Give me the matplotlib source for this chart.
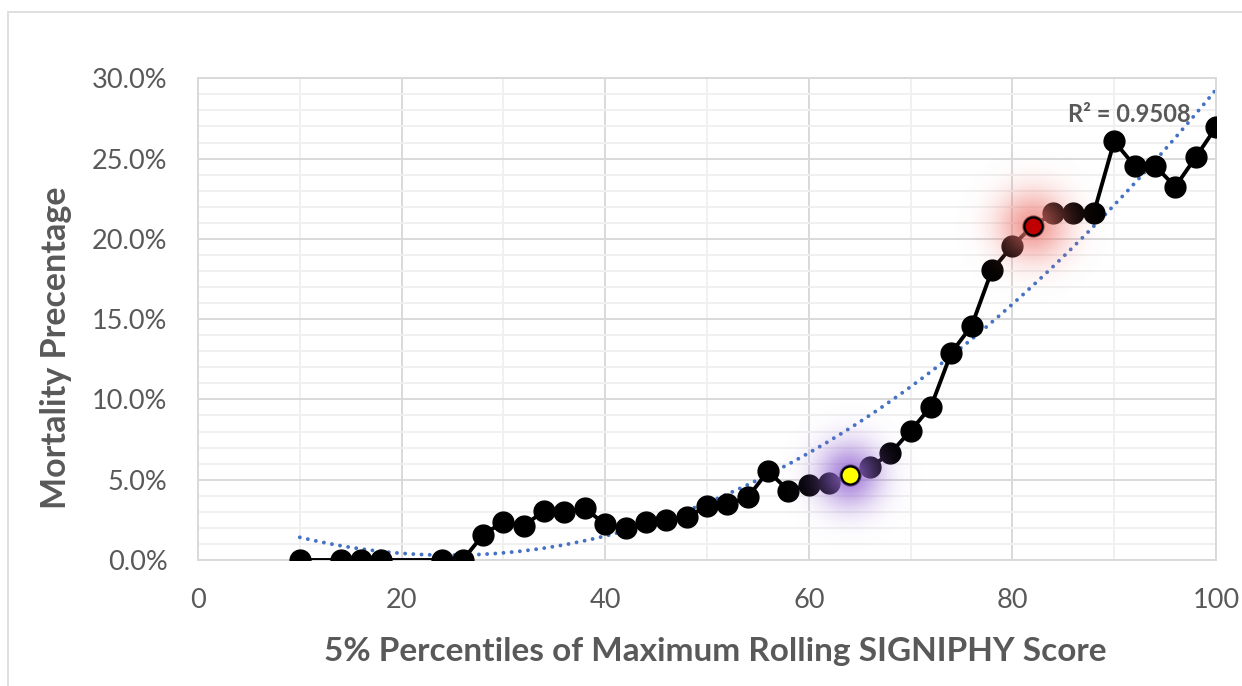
import numpy as np
import matplotlib
matplotlib.use("Agg")
import matplotlib.pyplot as plt
from matplotlib.ticker import FuncFormatter, MultipleLocator
from matplotlib.patches import Rectangle

plt.rcParams['font.family'] = ['Lato', 'DejaVu Sans']

# Percentile score buckets and observed mortality (%)
percentiles = [10, 14, 16, 18, 24, 26, 28, 30, 32, 34, 36, 38, 40, 42, 44, 46, 48,
               50, 52, 54, 56, 58, 60, 62, 64, 66, 68, 70, 72, 74, 76, 78, 80, 82,
               84, 86, 88, 90, 92, 94, 96, 98, 100]
mortality = [0.0, 0.0, 0.0, 0.0, 0.0, 0.0, 1.56, 2.39, 2.14, 3.05, 3.01, 3.22, 2.22,
             1.97, 2.39, 2.49, 2.66, 3.36, 3.47, 3.90, 5.54, 4.32, 4.67, 4.77, 5.27,
             5.77, 6.64, 8.05, 9.55, 12.91, 14.59, 18.06, 19.57, 20.81, 21.58, 21.62,
             21.62, 26.08, 24.55, 24.55, 23.25, 25.08, 26.95]

# Highlighted buckets
low_highlight = 64
high_highlight = 82
r2_text = "R² = 0.9508"

x_ticks = [0, 20, 40, 60, 80, 100]
y_ticks = [0, 5, 10, 15, 20, 25, 30]

GRAY_TXT = "#595959"
GRID_MAJOR = "#D9D9D9"
GRID_MINOR = "#F0F0F0"

fig = plt.figure(figsize=(12.42, 6.86), dpi=100)
ax = fig.add_axes([198 / 1242, 1 - 560 / 686, (1216 - 198) / 1242, (560 - 78.3) / 686])

# outer chart border
fig.patches.append(Rectangle((8 / 1242, -0.01), 1.2, 1 - 12 / 686 + 0.01,
                             transform=fig.transFigure, fill=False,
                             edgecolor=GRID_MAJOR, linewidth=1.2))

ax.set_xlim(0, 100)
ax.set_ylim(0, 30)
ax.set_xticks(x_ticks)
ax.set_yticks(y_ticks)
ax.xaxis.set_minor_locator(MultipleLocator(10))
ax.yaxis.set_minor_locator(MultipleLocator(1))
ax.grid(which='major', color=GRID_MAJOR, linewidth=1.4, zorder=0)
ax.grid(which='minor', color=GRID_MINOR, linewidth=1.4, zorder=0)
ax.set_axisbelow(True)
for s in ax.spines.values():
    s.set_color(GRID_MAJOR)
    s.set_linewidth(1.4)
ax.tick_params(which='both', length=0)
ax.tick_params(axis='y', pad=22, labelsize=19.5, labelcolor=GRAY_TXT)
ax.tick_params(axis='x', pad=20, labelsize=19.5, labelcolor=GRAY_TXT)
ax.yaxis.set_major_formatter(FuncFormatter(lambda v, p: f"{v:.1f}%"))

x = np.array(percentiles, dtype=float)
y = np.array(mortality, dtype=float)

# quadratic trend line
coef = np.polyfit(x, y, 2)
xt = np.linspace(x.min(), x.max(), 300)
ax.plot(xt, np.polyval(coef, xt), color="#4472C4", linewidth=2.8,
        linestyle=(0, (0.01, 2.1)), dash_capstyle='round', zorder=2)

# main series
ax.plot(x, y, color="black", linewidth=2.8, marker='o', markersize=15,
        markerfacecolor='black', markeredgecolor='black', zorder=3)


def glow(cx, cy, rgb, sx, sy, peak):
    w = 7 * sx
    h = 7 * sy
    gx = np.linspace(-w / 2, w / 2, 240)
    gy = np.linspace(-h / 2, h / 2, 240)
    GX, GY = np.meshgrid(gx, gy)
    a = peak * np.exp(-0.5 * ((GX / sx) ** 2 + (GY / sy) ** 2))
    img = np.zeros((240, 240, 4))
    img[..., 0] = rgb[0]
    img[..., 1] = rgb[1]
    img[..., 2] = rgb[2]
    img[..., 3] = a
    ax.imshow(img, extent=(cx - w / 2, cx + w / 2, cy - h / 2, cy + h / 2),
              origin='lower', aspect='auto', interpolation='bilinear', zorder=4)


lo_y = y[percentiles.index(low_highlight)]
hi_y = y[percentiles.index(high_highlight)]
glow(low_highlight, lo_y, (0.58, 0.40, 0.82), 2.2, 1.4, 0.8)
glow(high_highlight, hi_y, (0.93, 0.45, 0.42), 2.4, 1.5, 0.7)

ax.plot([low_highlight], [lo_y], marker='o', markersize=13, markerfacecolor='#FFFF00',
        markeredgecolor='black', markeredgewidth=1.6, zorder=5, linestyle='none')
ax.plot([high_highlight], [hi_y], marker='o', markersize=13, markerfacecolor='#C00000',
        markeredgecolor='black', markeredgewidth=1.6, zorder=5, linestyle='none')

ax.set_xlim(0, 100)
ax.set_ylim(0, 30)

ax.text(1191, 686 - 115, r2_text, transform=None, ha='right', va='center',
        fontsize=17, fontweight='bold', color=GRAY_TXT, zorder=6)

fig.text(715 / 1242, 1 - 652 / 686, "5% Percentiles of Maximum Rolling SIGNIPHY Score",
         ha='center', va='center', fontsize=24, fontweight='bold', color=GRAY_TXT)
fig.text(56 / 1242, 1 - 348 / 686, "Mortality Precentage", rotation=90,
         ha='center', va='center', fontsize=24.5, fontweight='bold', color=GRAY_TXT)

fig.savefig("out.png", dpi=100)
